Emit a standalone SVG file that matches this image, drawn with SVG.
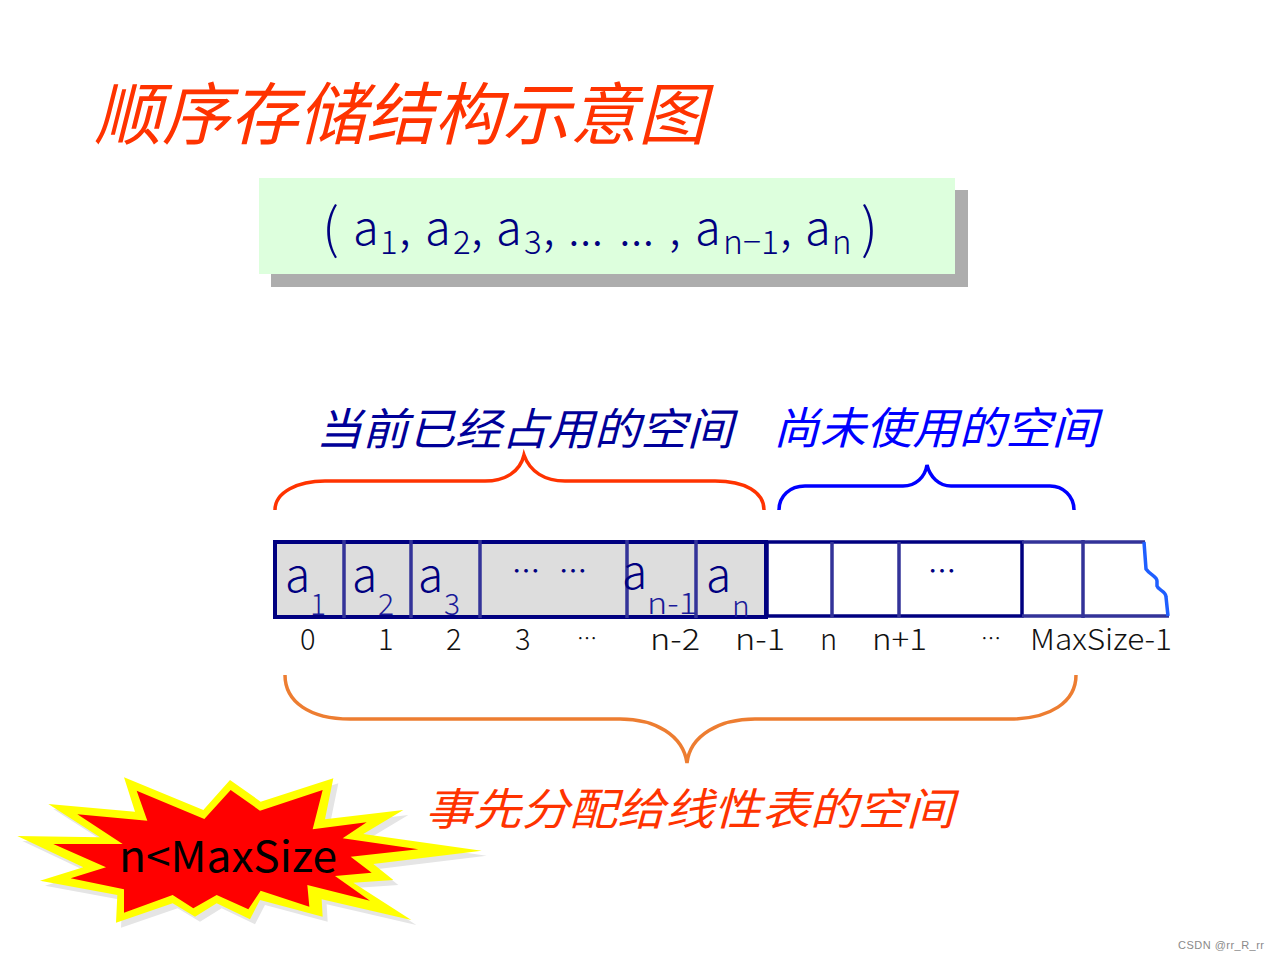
<svg xmlns="http://www.w3.org/2000/svg" width="1280" height="960" viewBox="0 0 1280 960">
<style>
text{font-family:"Noto Sans CJK SC","Noto Sans","Liberation Sans",sans-serif;font-weight:300}
.h{font-style:italic;font-weight:400}
.cell{font-size:46px;fill:#000080}
.sub{font-size:30px;fill:#1a1a99}
.dots{font-size:28px;fill:#000080;font-weight:400}
.idx{font-size:29px;fill:#111}
.ell{font-size:20px;fill:#111}
.eq{font-size:47px;fill:#000080}
.par{font-size:54px;fill:#000080}
.eqs{font-size:33px;fill:#000080}
.div{stroke:#333399;stroke-width:3.5;fill:none}
.brace{fill:none;stroke-width:3.5}
</style>
<rect width="1280" height="960" fill="#fff"/>
<g id="title"><text class="h" x="94" y="139" font-size="68" fill="#ff3300" textLength="612" lengthAdjust="spacingAndGlyphs">顺序存储结构示意图</text></g>
<g id="formula">
<rect x="271" y="190" width="697" height="97" fill="#adadad"/>
<rect x="259" y="178" width="696" height="96" fill="#ddffdd"/>
<text class="par" x="322" y="248">(</text>
<text class="eq" x="353" y="245">a</text><text class="eqs" x="380" y="254">1</text><text class="eq" x="399" y="245">,</text>
<text class="eq" x="425" y="245">a</text><text class="eqs" x="453" y="254">2</text><text class="eq" x="471" y="245">,</text>
<text class="eq" x="496" y="245">a</text><text class="eqs" x="524" y="254">3</text><text class="eq" x="543" y="245">,</text>
<text class="eq" x="568" y="245">...</text><text class="eq" x="619" y="245">...</text><text class="eq" x="669" y="245">,</text>
<text class="eq" x="695" y="245">a</text><text class="eqs" x="723" y="254" textLength="56" lengthAdjust="spacingAndGlyphs">n−1</text><text class="eq" x="780" y="245">,</text>
<text class="eq" x="805" y="245">a</text><text class="eqs" x="832" y="254">n</text>
<text class="par" x="861" y="248">)</text>
</g>
<g id="label-used"><text class="h" x="316" y="445" font-size="44" fill="#000099" textLength="417" lengthAdjust="spacingAndGlyphs">当前已经占用的空间</text></g>
<g id="label-free"><text class="h" x="773" y="444" font-size="44" fill="#0000ff" textLength="325" lengthAdjust="spacingAndGlyphs">尚未使用的空间</text></g>
<g id="label-alloc"><text class="h" x="425" y="825" font-size="44" fill="#ff3300" textLength="529" lengthAdjust="spacingAndGlyphs">事先分配给线性表的空间</text></g>
<g id="connectors">
<path class="brace" stroke="#ff3300" d="M275 510C275 492 298 481 325 481H485C505 481 520 472 524 455C530 472 545 481 565 481H715C745 481 764 492 764 510"/>
<path class="brace" stroke="#0000ff" d="M779 510C779 496 790 486 805 486H903C916 486 925 477 927 465C930 477 939 486 951 486H1050C1063 486 1074 496 1074 510"/>
<path class="brace" stroke="#ed7d31" d="M285 675C285 702 310 719 350 719H620C655 719 683 735 687 763C690 735 720 719 755 719H1010C1050 719 1076 702 1076 675"/>
</g>
<g id="array">
<rect x="275" y="542" width="491" height="75" fill="#dddddd" stroke="#000080" stroke-width="4"/>
<rect x="767" y="542" width="255" height="74" fill="#fff" stroke="#000080" stroke-width="3.5"/>
<path class="div" d="M1022 542H1145M1022 616H1169M1083 540V618M344 540V618M411 540V618M480 540V618M627 540V618M696 540V618M832 542V617M899 542V617"/>
<path fill="none" stroke="#1f5fff" stroke-width="3.5" d="M1144 542L1146 569C1150 575 1157 576 1157 581V586C1158 590 1166 591 1166 597L1168 616"/>
<text class="cell" x="285" y="592">a</text><text class="sub" x="310" y="615">1</text>
<text class="cell" x="352" y="592">a</text><text class="sub" x="378" y="615">2</text>
<text class="cell" x="418" y="592">a</text><text class="sub" x="444" y="615">3</text>
<text class="cell" x="622" y="589">a</text><text class="sub" x="647" y="614" textLength="50" lengthAdjust="spacingAndGlyphs">n-1</text>
<text class="cell" x="706" y="592">a</text><text class="sub" x="732" y="617">n</text>
<text class="dots" x="512" y="582">…</text><text class="dots" x="559" y="582">…</text>
<text class="dots" x="928" y="582">…</text>
<text class="idx" x="300" y="650">0</text>
<text class="idx" x="378" y="650">1</text>
<text class="idx" x="446" y="650">2</text>
<text class="idx" x="515" y="650">3</text>
<text class="ell" x="577" y="646">…</text>
<text class="idx" x="650" y="650" textLength="50" lengthAdjust="spacingAndGlyphs">n-2</text>
<text class="idx" x="735" y="650" textLength="50" lengthAdjust="spacingAndGlyphs">n-1</text>
<text class="idx" x="820" y="650">n</text>
<text class="idx" x="872" y="650" textLength="55" lengthAdjust="spacingAndGlyphs">n+1</text>
<text class="ell" x="981" y="646">…</text>
<text class="idx" x="1030" y="650" textLength="142" lengthAdjust="spacingAndGlyphs">MaxSize-1</text>
</g>
<g id="burst">
<g transform="translate(0 760) scale(.33333)">
<polygon id="burst-shadow" transform="translate(15 15)" fill="#e5e5e5" points="372,52 610,150 690,60 782,125 1000,55 975,178 1210,150 1090,222 1445,272 1120,312 1180,360 1060,368 1234,480 965,418 968,470 780,420 750,478 650,430 585,470 518,430 348,488 352,405 120,362 250,322 52,228 300,232 145,132 405,155"/>
<polygon fill="#ffff00" points="372,52 610,150 690,60 782,125 1000,55 975,178 1210,150 1090,222 1445,272 1120,312 1180,360 1060,368 1234,480 965,418 968,470 780,420 750,478 650,430 585,470 518,430 348,488 352,405 120,362 250,322 52,228 300,232 145,132 405,155"/>
<polygon fill="#ff0000" points="410,92 613,177 692,90 780,152 968,90 938,208 1100,187 1028,235 1255,268 1052,290 1115,338 1005,348 1110,422 922,375 928,440 782,392 745,448 650,405 580,445 518,405 372,458 372,388 212,355 318,322 160,252 368,252 232,163 442,182"/>
</g>
<text x="119" y="872" font-size="42" fill="#000" textLength="218" lengthAdjust="spacingAndGlyphs" style="font-weight:400">n&lt;MaxSize</text>
</g>
<g id="watermark"><text x="1178" y="949" font-size="11" fill="#8a8a8a" textLength="86" style="font-family:'Liberation Sans',sans-serif">CSDN @rr_R_rr</text></g>
</svg>
